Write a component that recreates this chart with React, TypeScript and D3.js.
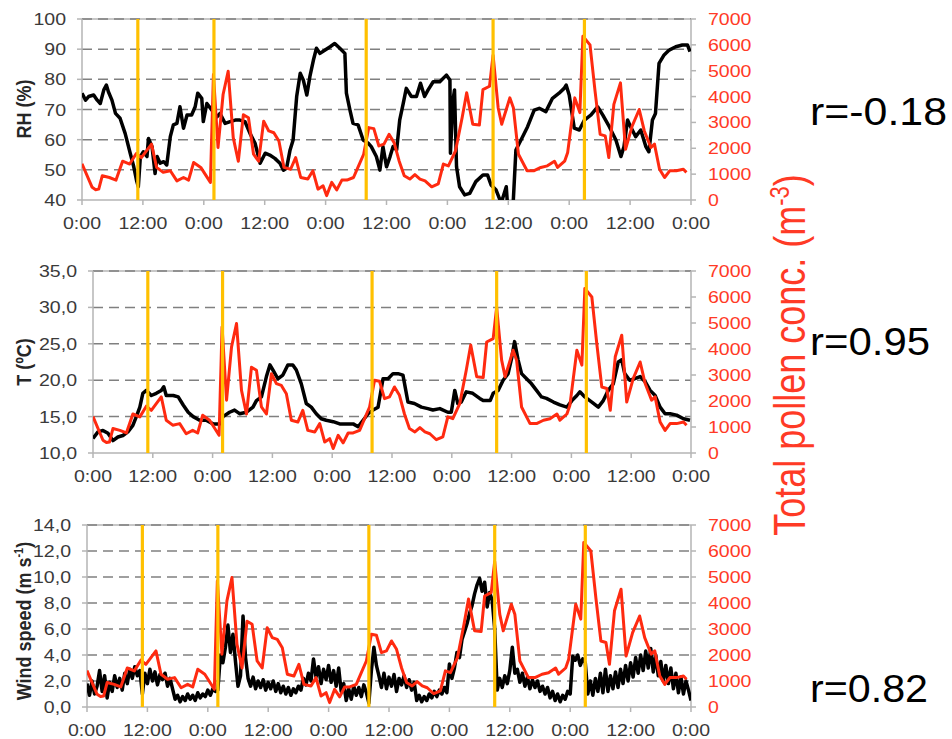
import React from "react";
import * as d3 from "d3";

// ---------- data ----------
const xTickHours = [0, 12, 24, 36, 48, 60, 72, 84, 96, 108, 120];
const xTickLabels = ["0:00", "12:00", "0:00", "12:00", "0:00", "12:00", "0:00", "12:00", "0:00", "12:00", "0:00"];
const eventHours = [11, 26, 56, 81, 99];
const pollenTicks = [0, 1000, 2000, 3000, 4000, 5000, 6000, 7000];
const rhTicks = [40, 50, 60, 70, 80, 90, 100];
const tTicks = [10, 15, 20, 25, 30, 35];
const windTicks = [0, 2, 4, 6, 8, 10, 12, 14];
const correlations = ["r=-0.18", "r=0.95", "r=0.82"];

// total pollen concentration (m-3): [hour, value]
const pollen: [number, number][] = [
  [0, 1400], [2, 490], [2.7, 400], [3.3, 420], [4, 940], [5.4, 870], [6.7, 770], [8, 1500], [9.4, 1390],
  [10.7, 1800], [11.7, 1640], [12.7, 1900], [13.7, 2160], [14.7, 1260], [16, 1070], [17.4, 1130], [18.7, 740],
  [20, 870], [21, 770], [22, 1450], [23.4, 1260], [25.3, 680], [25.9, 4850], [26.8, 2030], [27.8, 4080],
  [28.8, 4980], [29.8, 2410], [30.8, 1500], [31.8, 3300], [32.8, 3180], [33.8, 1770], [34.8, 1500],
  [35.8, 3050], [36.8, 2670], [37.8, 2600], [38.8, 2280], [39.8, 1260], [41.1, 1190], [42.1, 1640],
  [43.1, 870], [44.5, 810], [45.5, 1130], [46.5, 420], [47.5, 550], [48.2, 170], [49.2, 680], [50.2, 390],
  [51.2, 770], [52.2, 770], [53.5, 870], [54.5, 1320], [55.5, 1770], [56.5, 2800], [57.5, 2760],
  [58.5, 2090], [59.5, 2160], [60.5, 2540], [61.5, 2220], [62.5, 1500], [63.5, 940], [64.6, 810],
  [65.6, 980], [66.6, 810], [67.6, 740], [68.9, 510], [70.2, 620], [71.2, 1390], [72.2, 1320], [73.6, 1900],
  [74.9, 3180], [75.8, 4150], [77, 2930], [78.3, 2900], [79, 4270], [80.3, 4400], [81, 5600], [82, 3570],
  [82.7, 2930], [84.3, 3950], [85, 3570], [86, 1770], [87.7, 1130], [89, 1130], [90.4, 1260], [91.7, 1320],
  [93.1, 1500], [93.7, 1260], [95.1, 1500], [95.7, 1840], [97.1, 3950], [98.1, 3380], [98.7, 6330],
  [100.1, 6000], [101.1, 4200], [102.1, 2540], [103.1, 2480], [103.8, 1640], [104.8, 3700], [106.1, 4530],
  [107.1, 1960], [108.4, 2860], [109.8, 3500], [110.8, 2670], [112.1, 2030], [112.8, 2160], [113.8, 1190],
  [114.8, 870], [115.8, 1130], [117.1, 1130], [118.5, 1190], [119.1, 1070],
];

// relative humidity (%): [hour, value]
const rh: [number, number][] = [
  [0, 75.4], [0.7, 73.1], [1.3, 74.3], [2.3, 74.8], [3, 73.1], [3.6, 72], [4.3, 76.5], [4.8, 78.1], [5.2, 75.9],
  [5.9, 73.1], [6.6, 68.7], [7.5, 67.1], [8.5, 62.1], [9.5, 55.5], [10.2, 51], [10.8, 46.1], [11.1, 44.4],
  [11.5, 54.4], [12.1, 56], [12.8, 54.4], [13.1, 60.4], [13.8, 57.7], [14.4, 48.8], [14.8, 54.4], [15.4, 52.2],
  [16.1, 52.7], [16.7, 51.6], [17.4, 61], [18, 64.9], [18.7, 65.4], [19.3, 70.9], [20, 63.8], [20.7, 68.2],
  [21.6, 68.2], [22.3, 70.9], [22.8, 75.4], [23.6, 73.7], [23.9, 66], [24.6, 72], [25.6, 69.8], [26.6, 67.6],
  [27.2, 68.7], [28.2, 65.4], [29.2, 66], [30.2, 66.5], [31.1, 66.5], [32.1, 66], [33.1, 62.1], [34.1, 58.8],
  [35.1, 52.2], [36.1, 55.5], [37, 54.9], [38, 53.8], [39, 52.2], [39.7, 49.9], [40.3, 50.5], [41, 56.6],
  [41.6, 59.9], [42.3, 74.3], [43, 82], [43.6, 79.8], [44.3, 74.8], [44.9, 80.9], [45.6, 86.4], [46.2, 90.3],
  [46.9, 88.6], [47.9, 89.7], [48.9, 90.8], [49.8, 91.9], [50.8, 90.3], [51.8, 88.6], [52.1, 75.4],
  [52.8, 69.8], [53.4, 65.4], [54.4, 64.9], [55.4, 59.9], [56.4, 58.8], [57, 57.7], [58, 54.4], [58.7, 49.9],
  [59.3, 57.7], [60, 51], [60.7, 54.4], [61.3, 57.7], [62, 56.6], [62.6, 66.5], [63.3, 72], [63.9, 77],
  [64.9, 74.3], [65.9, 74.3], [66.7, 78.7], [67.5, 74.3], [68.2, 76.5], [69.2, 79.2], [70.5, 79.2],
  [71.8, 81.4], [72.5, 79.8], [72.6, 55.5], [73.1, 73.1], [73.4, 76.5], [73.8, 51], [74.4, 44.4], [75.4, 41.7],
  [76.4, 42.2], [77.6, 46.1], [79, 48.3], [79.9, 48.3], [80.6, 45], [81.6, 43.3], [82.6, 39], [83.6, 44.4],
  [83.9, 37], [84.9, 37], [85.5, 56.6], [86.5, 59.9], [87.8, 64.3], [89.1, 69.8], [90.1, 70.4], [91.4, 69.3],
  [92.7, 73.7], [94, 75.4], [95, 77], [95.4, 78.1], [96, 74.8], [97, 63.8], [98, 63.2], [99, 66.5],
  [100.3, 68.2], [101.6, 70.9], [102.6, 68.2], [103.9, 64.3], [105.2, 59.9], [106.2, 54.4], [106.8, 57.7],
  [107.5, 66.5], [108.1, 64.3], [109.1, 61], [110.1, 63.2], [111.1, 57.7], [111.7, 56], [112.4, 66.5],
  [113, 68.7], [113.7, 85.3], [114.7, 88.1], [115.7, 89.7], [117, 90.8], [118.3, 91.4], [119.3, 91.4],
  [119.8, 89.2],
];

// temperature (ºC): [hour, value]
const temp: [number, number][] = [
  [0, 12], [1, 12.9], [2, 13.1], [3, 12.7], [4, 11.7], [5, 12.2], [6, 12.4], [7, 12.9], [8, 13.8], [8.7, 15],
  [9.4, 16.3], [10, 18.2], [10.7, 18.6], [11.7, 17.9], [12.7, 18.2], [13.7, 18.6], [14.2, 19.1], [14.7, 17.9],
  [16.1, 17.9], [17.1, 17.7], [18.1, 16.6], [19.1, 15.6], [20.1, 15], [21.4, 14.5], [22.7, 14.5], [24.1, 14],
  [25.4, 14], [26.1, 15], [27.4, 15.6], [28.4, 15.9], [29.4, 15.4], [30.8, 15.6], [32.1, 16.3], [32.8, 17.2],
  [33.8, 17.7], [34.8, 20.5], [35.5, 22.1], [36.1, 21.4], [37.1, 20.2], [38.1, 20.7], [39.1, 22.1],
  [40.1, 22.1], [40.8, 21.4], [41.8, 19.5], [42.8, 16.8], [43.8, 16.3], [44.8, 15.4], [45.8, 14.7],
  [46.8, 14.5], [48.2, 14.3], [49.5, 14], [50.8, 14], [52.2, 14], [53.2, 13.6], [54.2, 14.5], [55.2, 15.4],
  [56.2, 15.9], [57.2, 16.3], [58.2, 20.2], [59.2, 20.2], [60.2, 20.9], [61.2, 20.9], [62.2, 20.7], [63.2, 17],
  [64.5, 16.8], [65.9, 16.3], [67.2, 16.1], [68.2, 15.9], [69.6, 16.1], [71.2, 15.6], [71.9, 15.6],
  [72.6, 18.6], [73.2, 16.8], [73.9, 17], [74.9, 18.4], [76.2, 18.2], [77.6, 17.5], [78.3, 17.2], [79.7, 17.2],
  [80.3, 18.2], [81.3, 18.6], [82.3, 20], [83.3, 20.9], [84, 23], [84.6, 25.3], [85.3, 22.8], [86, 20.9],
  [87, 20.2], [88, 19.5], [89, 18.6], [90, 17.7], [91, 17.5], [92.4, 17], [93.7, 16.6], [95.1, 16.3],
  [96.1, 17.2], [97.1, 17.9], [97.7, 18.4], [98.7, 17.7], [100.1, 17], [101.4, 16.3], [102.4, 17.2],
  [103.4, 18.6], [104.4, 19.5], [105.4, 22.5], [106.1, 22.8], [106.7, 20.9], [107.7, 20], [108.7, 20.2],
  [109.8, 20.5], [110.8, 19.8], [111.8, 18.6], [112.8, 17.9], [113.8, 16.3], [114.8, 15.4], [115.8, 15.4],
  [117.1, 15.2], [118.5, 14.7], [119.8, 14.5],
];

// wind speed (m s-1), one value every half hour from 0:00 of day 1
const windStepHours = 0.5;
const wind: number[] = [
  1.8, 0.9, 2.0, 1.0, 1.6,
  2.8, 1.2, 2.4, 0.7,
  1.9, 1.2, 2.4, 1.5, 2.2, 1.3,
  2.6, 1.8, 2.9, 2.2, 3.1, 2.4,
  2.8, 1.0,
  2.6, 1.8, 2.9, 2.0, 2.7, 1.7, 2.5, 2.1, 2.6, 1.6, 2.2, 1.4,
  0.6, 0.9, 0.4, 0.8, 0.5, 1.0, 0.6, 0.9, 0.5, 1.1, 0.7, 1.0,
  0.8, 1.3, 0.9, 1.4, 1.2,
  1.3,
  4.0, 3.4, 4.6, 6.3,
  4.2, 5.6, 3.5, 1.6,
  2.4, 7.0, 3.8, 2.2,
  1.6, 2.3, 1.4, 2.0, 1.5, 2.1, 1.3, 1.9, 1.4, 2.0, 1.2, 1.8,
  1.1, 1.6, 1.0, 1.5, 0.9, 1.4, 1.1, 1.6, 1.3, 2.2, 1.7, 2.6,
  2.0, 3.7, 2.3, 3.1, 1.8, 2.9, 2.1, 3.2, 1.9, 2.8, 1.6, 3.0,
  1.2, 1.8, 0.5, 1.4, 0.6, 1.6, 0.9, 1.5, 0.8, 1.7, 1.1, 0.3,
  2.8, 4.6, 3.2, 2.4,
  1.5, 2.6, 1.4, 2.3, 1.6, 2.5, 1.2, 2.2, 1.7, 2.4, 1.5, 2.1, 1.3, 1.9,
  0.5, 0.9, 0.4, 0.8, 0.5, 1.0, 0.7, 1.2, 0.8, 1.3, 1.0, 1.5, 1.1,
  3.3, 2.2, 3.0, 4.2, 3.8, 5.2, 5.8, 6.4, 7.2, 7.8, 8.7, 9.4, 9.9,
  8.9, 9.6, 7.7, 8.8, 8.2, 6.0,
  1.3, 2.2, 1.5, 2.4, 1.8, 2.8, 4.6, 2.6,
  2.9, 1.9, 2.6, 1.6, 2.3, 1.4, 2.1, 1.5, 2.0, 1.2,
  1.6, 1.0, 1.5, 0.7, 1.2, 0.5, 1.0, 0.4, 0.9, 0.6, 1.2, 1.0,
  3.9, 3.6, 4.0, 3.2, 3.7, 3.4,
  1.0, 2.0, 0.9, 2.2, 1.2, 2.6, 1.1, 2.9, 1.2, 2.4, 1.4, 2.7,
  1.5, 2.9, 1.8, 3.2, 2.0, 3.4, 2.3, 3.8, 2.6, 4.0,
  2.8, 4.3, 3.0, 4.5, 2.7, 4.0, 2.4, 3.5, 2.0, 3.2,
  1.8, 3.0, 1.4, 2.6, 1.1, 2.3, 1.0, 2.0, 1.3, 0.5,
];

// ---------- styles ----------
const FONT = "'Liberation Sans', Arial, Helvetica, sans-serif";
const RED = "#ff2a10";
const RED_TEXT = "#ff3a26";
const YELLOW = "#ffc000";
const AXIS = "#b5b5b5";
const GRID = "#808080";
const TICK_TEXT = "#3a3a3a";
const SX = 1.15;

type Box = { l: number; r: number; t: number; b: number };

function Panel(props: {
  id: string;
  box: Box;
  yTicks: number[];
  yFormat: (v: number) => string;
  data: [number, number][];
  title: React.ReactNode;
  titleY: number;
}) {
  const { id, box, yTicks, yFormat, data, title, titleY } = props;
  const x = d3.scaleLinear().domain([0, 120]).range([box.l, box.r]);
  const y = d3
    .scaleLinear()
    .domain([yTicks[0], yTicks[yTicks.length - 1]])
    .range([box.b, box.t]);
  const yp = d3.scaleLinear().domain([0, 7000]).range([box.b, box.t]);
  const blackLine = d3
    .line<[number, number]>()
    .x((d) => x(d[0]))
    .y((d) => y(d[1]));
  const redLine = d3
    .line<[number, number]>()
    .x((d) => x(d[0]))
    .y((d) => yp(d[1]));

  return (
    <g fontFamily={FONT}>
      <defs>
        <clipPath id={`clip-${id}`}>
          <rect x={box.l} y={box.t} width={box.r - box.l} height={box.b - box.t} />
        </clipPath>
      </defs>
      {/* frame */}
      <line x1={box.l} x2={box.r} y1={box.t} y2={box.t} stroke={AXIS} strokeWidth={1.5} />
      {/* gridlines */}
      {yTicks.slice(1).map((v) => (
        <line
          key={`g${v}`}
          x1={box.l}
          x2={box.r}
          y1={y(v)}
          y2={y(v)}
          stroke={GRID}
          strokeWidth={1.5}
          strokeDasharray="10,6"
        />
      ))}
      <line x1={box.l} x2={box.l} y1={box.t} y2={box.b} stroke={AXIS} strokeWidth={1.5} />
      <line x1={box.r} x2={box.r} y1={box.t} y2={box.b} stroke={AXIS} strokeWidth={1.5} />
      <line x1={box.l} x2={box.r} y1={box.b} y2={box.b} stroke={AXIS} strokeWidth={1.5} />
      {/* left ticks */}
      {yTicks.map((v) => (
        <g key={`l${v}`}>
          <line x1={box.l - 5} x2={box.l} y1={y(v)} y2={y(v)} stroke={AXIS} strokeWidth={1.5} />
          <text
            transform={`translate(${box.l - 16},${y(v) + 6}) scale(${SX},1)`}
            textAnchor="end"
            fontSize={17}
            fill={TICK_TEXT}
          >
            {yFormat(v)}
          </text>
        </g>
      ))}
      {/* right ticks */}
      {pollenTicks.map((v) => (
        <g key={`r${v}`}>
          <line x1={box.r} x2={box.r + 5} y1={yp(v)} y2={yp(v)} stroke={AXIS} strokeWidth={1.5} />
          <text
            transform={`translate(${box.r + 17},${yp(v) + 6}) scale(${SX},1)`}
            textAnchor="start"
            fontSize={17}
            fill={RED_TEXT}
          >
            {v}
          </text>
        </g>
      ))}
      {/* bottom ticks */}
      {xTickHours.map((h, i) => (
        <g key={`b${h}`}>
          <line x1={x(h)} x2={x(h)} y1={box.b} y2={box.b + 5} stroke={AXIS} strokeWidth={1.5} />
          <text
            transform={`translate(${x(h)},${box.b + 29}) scale(${SX},1)`}
            textAnchor="middle"
            fontSize={17}
            fill={TICK_TEXT}
          >
            {xTickLabels[i]}
          </text>
        </g>
      ))}
      {/* series */}
      <g clipPath={`url(#clip-${id})`}>
        <path
          d={blackLine(data) || ""}
          fill="none"
          stroke="#000"
          strokeWidth={3.5}
          strokeLinejoin="round"
        />
        <path
          d={redLine(pollen) || ""}
          fill="none"
          stroke={RED}
          strokeWidth={3}
          strokeLinejoin="round"
        />
      </g>
      {/* event markers */}
      {eventHours.map((h) => (
        <line key={`e${h}`} x1={x(h)} x2={x(h)} y1={box.t} y2={box.b} stroke={YELLOW} strokeWidth={3.2} />
      ))}
      {/* y title */}
      <text
        transform={`translate(31,${titleY}) scale(${SX},1) rotate(-90)`}
        textAnchor="middle"
        fontSize={18}
        fontWeight="bold"
        fill="#262626"
      >
        {title}
      </text>
    </g>
  );
}

export default function App() {
  const windPairs: [number, number][] = wind.map((v, i) => [i * windStepHours, v]);
  const fmt1 = (v: number) => v.toFixed(1).replace(".", ",");
  return (
    <svg
      width={952}
      height={739}
      viewBox="0 0 952 739"
      style={{ position: "absolute", left: 0, top: 0, display: "block", background: "#fff" }}
    >
      <rect x={0} y={0} width={952} height={739} fill="#fff" />
      <Panel
        id="rh"
        box={{ l: 82, r: 691, t: 19, b: 200 }}
        yTicks={rhTicks}
        yFormat={(v) => String(v)}
        data={rh}
        title="RH (%)"
        titleY={109}
      />
      <Panel
        id="t"
        box={{ l: 93, r: 691, t: 271, b: 453 }}
        yTicks={tTicks}
        yFormat={fmt1}
        data={temp}
        title="T (ºC)"
        titleY={362}
      />
      <Panel
        id="w"
        box={{ l: 87, r: 691, t: 525, b: 707 }}
        yTicks={windTicks}
        yFormat={fmt1}
        data={windPairs}
        title={
          <>
            Wind speed (m s
            <tspan dy={-7} fontSize={11}>
              -1
            </tspan>
            <tspan dy={7}>)</tspan>
          </>
        }
        titleY={621}
      />
      {/* pollen axis title */}
      <text
        transform={`translate(805,355) scale(1.22,1) rotate(-90)`}
        textAnchor="middle"
        fontSize={36}
        fontFamily={FONT}
        fill={RED_TEXT}
      >
        Total pollen conc. (m
        <tspan dy={-13} fontSize={22}>
          -3
        </tspan>
        <tspan dy={13}>)</tspan>
      </text>
      {/* correlation labels */}
      <text x={810} y={125} fontSize={39} fontFamily={FONT} fill="#000" textLength={137} lengthAdjust="spacingAndGlyphs">
        {correlations[0]}
      </text>
      <text x={810} y={355} fontSize={39} fontFamily={FONT} fill="#000" textLength={120} lengthAdjust="spacingAndGlyphs">
        {correlations[1]}
      </text>
      <text x={810} y={702} fontSize={39} fontFamily={FONT} fill="#000" textLength={118} lengthAdjust="spacingAndGlyphs">
        {correlations[2]}
      </text>
    </svg>
  );
}
